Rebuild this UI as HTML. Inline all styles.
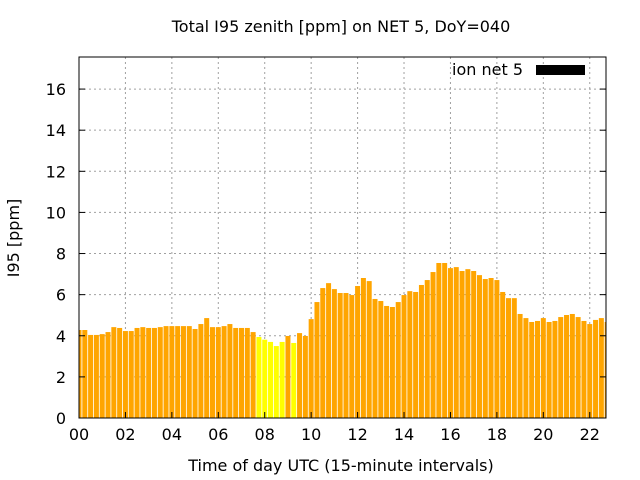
<!DOCTYPE html>
<html><head><meta charset="utf-8"><style>
body{margin:0;background:#fff;}
svg{display:block;font-family:"DejaVu Sans","Liberation Sans",sans-serif;}
</style></head><body>
<svg id="chart" width="640" height="480">
<defs><clipPath id="pc"><rect x="79" y="57" width="527" height="361"/></clipPath></defs>
<text x="341" y="32" font-size="16" text-anchor="middle">Total I95 zenith [ppm] on NET 5, DoY=040</text>
<text x="341" y="471" font-size="16" text-anchor="middle">Time of day UTC (15-minute intervals)</text>
<text transform="translate(19,238) rotate(-90)" font-size="16" text-anchor="middle">I95 [ppm]</text>
<g id="grid"></g>
<g id="bars" clip-path="url(#pc)"></g>
<g id="axes"></g>
<g>
<text x="523" y="75" font-size="16" text-anchor="end">ion net 5</text>
<rect x="536" y="65" width="49" height="10" fill="#000"/>
</g>
</svg>
<script>
const values=[4.28,4.28,4.04,4.04,4.08,4.18,4.42,4.38,4.23,4.23,4.38,4.42,4.38,4.38,4.42,4.47,4.47,4.47,4.47,4.47,4.33,4.57,4.86,4.42,4.42,4.47,4.57,4.38,4.38,4.38,4.18,3.94,3.81,3.70,3.50,3.70,3.99,3.65,4.13,3.99,4.81,5.64,6.32,6.56,6.27,6.08,6.08,5.98,6.42,6.81,6.66,5.79,5.69,5.45,5.40,5.64,5.98,6.17,6.13,6.47,6.71,7.10,7.54,7.54,7.29,7.34,7.15,7.24,7.15,6.95,6.76,6.81,6.71,6.13,5.83,5.83,5.06,4.86,4.67,4.72,4.86,4.67,4.72,4.91,5.01,5.06,4.91,4.72,4.57,4.77,4.86,4.67];
const yellowIdx=[31,32,33,34,35,37];
const xTicks=[0,2,4,6,8,10,12,14,16,18,20,22];
const xTickLabels=["00","02","04","06","08","10","12","14","16","18","20","22"];
const yTicks=[0,2,4,6,8,10,12,14,16];
const NS="http://www.w3.org/2000/svg";
const X0=79,X1=606,Y0=418,Y1=57,XMAX=22.7,YMAX=17.56;
const xs=h=>X0+h/XMAX*(X1-X0);
const ys=v=>Y0-v/YMAX*(Y0-Y1);
function mk(t,a,p){const e=document.createElementNS(NS,t);for(const k in a)e.setAttribute(k,a[k]);p.appendChild(e);return e;}
const grid=document.getElementById('grid'),bars=document.getElementById('bars'),axes=document.getElementById('axes');
xTicks.forEach((h,i)=>{const x=xs(h);
 if(h>0){const g=mk('line',{x1:x,x2:x,y1:Y1,y2:Y0,stroke:'#a0a0a0','stroke-dasharray':'2,3'},grid);
 
 }
 const t=mk('line',{x1:x,x2:x,y1:Y0,y2:Y0-6,stroke:'#000'},axes);
 
 
 const l=mk('text',{x:x,y:Y0+22,'font-size':16,'text-anchor':'middle'},axes);l.textContent=xTickLabels[i];
 
 
});
yTicks.forEach(v=>{const y=ys(v);
 if(v>0){const g=mk('line',{x1:X0,x2:X1,y1:y,y2:y,stroke:'#a0a0a0','stroke-dasharray':'2,3'},grid);
 
 }
 const t=mk('line',{x1:X0,x2:X0+6,y1:y,y2:y,stroke:'#000'},axes);
 
 
 const t2=mk('line',{x1:X1,x2:X1-6,y1:y,y2:y,stroke:'#000'},axes);
 
 
 const l=mk('text',{x:X0-13,y:y+6,'font-size':16,'text-anchor':'end'},axes);l.textContent=v;
 
 
});
values.forEach((v,i)=>{const c=xs(i*0.25);const y=ys(v);
 const r=mk('rect',{x:c-2.5,y:y,width:5,height:Y0-y,fill:yellowIdx.includes(i)?'#ffff00':'#ffa500'},bars);
 
 
});
const f=mk('rect',{x:X0,y:Y1,width:X1-X0,height:Y0-Y1,fill:'none',stroke:'#000','stroke-width':1},axes);


</script>
</body></html>
